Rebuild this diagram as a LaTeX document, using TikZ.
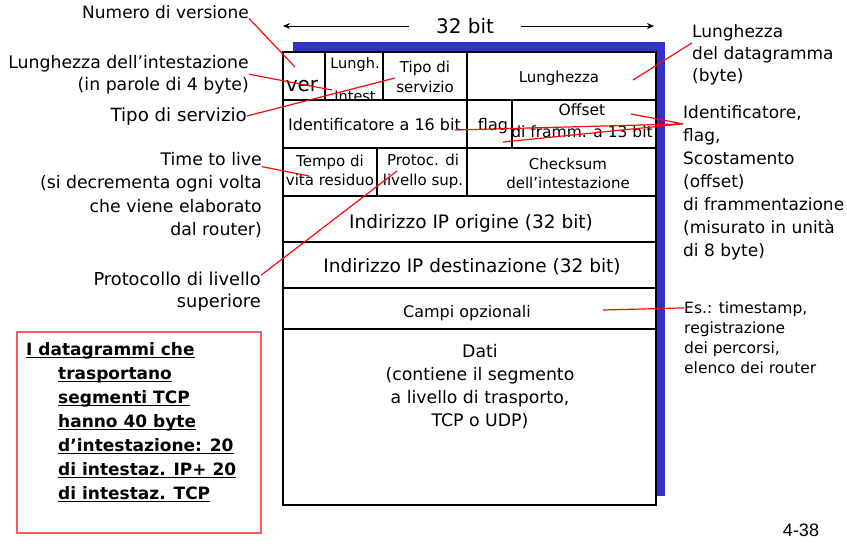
\documentclass[tikz,border=0pt]{standalone}
\usepackage{fontspec}
\usetikzlibrary{arrows.meta}
\setmainfont{DejaVu Sans}
\newfontfamily\slidenum{Liberation Sans}
\definecolor{shadowblue}{RGB}{51,51,204}
\definecolor{callred}{RGB}{250,10,10}
\definecolor{boxred}{RGB}{240,96,96}
\newcommand{\fsz}[2]{\fontsize{#1}{#2}\selectfont}
\newcommand{\undl}[1]{\setbox0=\hbox{#1}\rlap{\rule[-3pt]{\wd0}{1.2pt}}\box0}

\tikzset{
  field/.style={inner sep=0pt, align=center, anchor=base, font=\fsz{15}{20}},
  row/.style={field, font=\fsz{18.5}{23}},
  lbl/.style={inner sep=0pt, align=right, anchor=base east, font=\fsz{17.3}{22}},
  rlbl/.style={inner sep=0pt, align=left, anchor=base west, font=\fsz{17}{23}},
  pointer/.style={callred, line width=1.2pt},
  frame/.style={line width=1.3pt},
}

\begin{document}
\begin{tikzpicture}[x=1pt,y=-1pt]
  \useasboundingbox (0,0) rectangle (847,546);
  % datagram frame
  \fill[shadowblue] (293,42) rectangle (665,496);
  \draw[frame,fill=white] (283,52) rectangle (656,505);
  \node[field, font=\fsz{20}{24}, inner xsep=27pt] (width) at (465,33) {32 bit};
  \coordinate (wleft) at (283,26);
  \coordinate (wright) at (654,26);
  \draw[line width=1pt, -{Stealth[length=7pt,width=6pt]}] (width.west |- wleft) -- (wleft);
  \draw[line width=1pt, -{Stealth[length=7pt,width=6pt]}] (width.east |- wright) -- (wright);

  % fields (y = baseline of last line)
  \node[field, font=\fsz{20}{24}] (ver) at (302,91) {ver};
  \node[field, font=\fsz{14.5}{33}] (hlen) at (355,101) {Lungh.\\Intest};
  \node[field] (tos) at (425,92) {Tipo di\\servizio};
  \node[field] (len) at (559,82) {Lunghezza};
  \node[field, font=\fsz{16}{20}] (ident) at (374.5,130) {Identificatore a 16 bit};
  \node[field, font=\fsz{16}{20}] (flag) at (493,130) {flag};
  \node[field, font=\fsz{15.5}{22}] (offset) at (582,137) {Offset\\di framm. a 13 bit};
  \node[field, font=\fsz{15}{19}] (ttl) at (330,185) {Tempo di\\vita residuo};
  \node[field, font=\fsz{15}{20}] (proto) at (423,185) {Protoc. di\\livello sup.};
  \node[field, font=\fsz{15}{19}] (cksum) at (568,188) {Checksum\\dell'intestazione};
  \node[row] (src) at (471,228) {Indirizzo IP origine (32 bit)};
  \node[row] (dst) at (472,272) {Indirizzo IP destinazione (32 bit)};
  \node[row, font=\fsz{16}{20}] (opt) at (467,317) {Campi opzionali};
  \node[field, font=\fsz{17.3}{23}] (payload) at (480,426) {Dati\\(contiene il segmento\\a livello di trasporto,\\TCP o UDP)};

  \draw[frame] (283,100) -- (656,100)
    (283,148) -- (656,148)
    (283,196) -- (656,196)
    (283,242) -- (656,242)
    (283,288) -- (656,288)
    (283,329) -- (656,329);
  \draw[frame] (325,52) -- (325,100)
    (383,52) -- (383,100)
    (467,52) -- (467,196)
    (512,100) -- (512,148)
    (377,148) -- (377,196);

  % labels
  \node[lbl, font=\fsz{17}{22}] (numver) at (249,18) {Numero di versione};
  \node[lbl] (hlenlbl) at (249,90) {Lunghezza dell'intestazione\\(in parole di 4 byte)};
  \node[lbl, font=\fsz{18.2}{22}] (toslbl) at (247,121) {Tipo di servizio};
  \node[lbl, font=\fsz{17.3}{23.5}] (ttllbl) at (262,235.5) {Time to live\\(si decrementa ogni volta\\che viene elaborato\\dal router)};
  \node[lbl, font=\fsz{17.8}{22}] (protolbl) at (261,307) {Protocollo di livello\\superiore};
  \node[rlbl, font=\fsz{17}{22}] (lenlbl) at (692,81) {Lunghezza\\del datagramma\\(byte)};
  \node[rlbl] (identlbl) at (683,256) {Identificatore,\\flag,\\Scostamento\\(offset)\\di frammentazione\\(misurato in unità\\di 8 byte)};
  \node[rlbl, font=\fsz{15.5}{19.7}] (optlbl) at (684,373) {Es.: timestamp,\\registrazione\\dei percorsi,\\elenco dei router};

  % pointers
  \coordinate (verpt) at (295,67);
  \coordinate (hlenpt) at (332,90);
  \coordinate (tospt) at (395,78);
  \coordinate (lenpt) at (633,80);
  \coordinate (idpt) at (455,130);
  \coordinate (flagpt) at (503,142);
  \coordinate (offpt) at (631,114);
  \coordinate (ttlpt) at (309,176);
  \coordinate (protopt) at (397,171);
  \coordinate (optpt) at (603,310);
  \coordinate (fork) at ([yshift=-19pt]identlbl.north west);
  \draw[pointer] (numver.south east) -- (verpt);
  \draw[pointer] (hlenlbl.east) -- (hlenpt);
  \draw[pointer] (toslbl.east) -- (tospt);
  \draw[pointer] ([yshift=-19pt]lenlbl.north west) -- (lenpt);
  \draw[pointer] (fork) -- (idpt) (fork) -- (flagpt) (fork) -- (offpt);
  \draw[pointer] ([yshift=-15pt]ttllbl.north east) -- (ttlpt);
  \draw[pointer] ([yshift=-4pt]protolbl.north east) -- (protopt);
  \draw[pointer] ([yshift=-6pt]optlbl.north west) -- (optpt);

  % note
  \draw[boxred, line width=1.2pt] (17,332) rectangle (261,533);
  \node[inner sep=0pt, anchor=base west, align=left, font=\bfseries\fsz{17}{24}] (note) at (26,499)
    {\undl{I datagrammi che}\\
     \hspace*{32pt}\undl{trasportano}\\
     \hspace*{32pt}\undl{segmenti TCP}\\
     \hspace*{32pt}\undl{hanno 40 byte}\\
     \hspace*{32pt}\undl{d'intestazione: 20}\\
     \hspace*{32pt}\undl{di intestaz. IP+ 20}\\
     \hspace*{32pt}\undl{di intestaz. TCP}};

  \node[inner sep=0pt, anchor=base, font=\slidenum\fsz{18}{20}] (slide) at (801,536) {4-38};
\end{tikzpicture}
\end{document}
